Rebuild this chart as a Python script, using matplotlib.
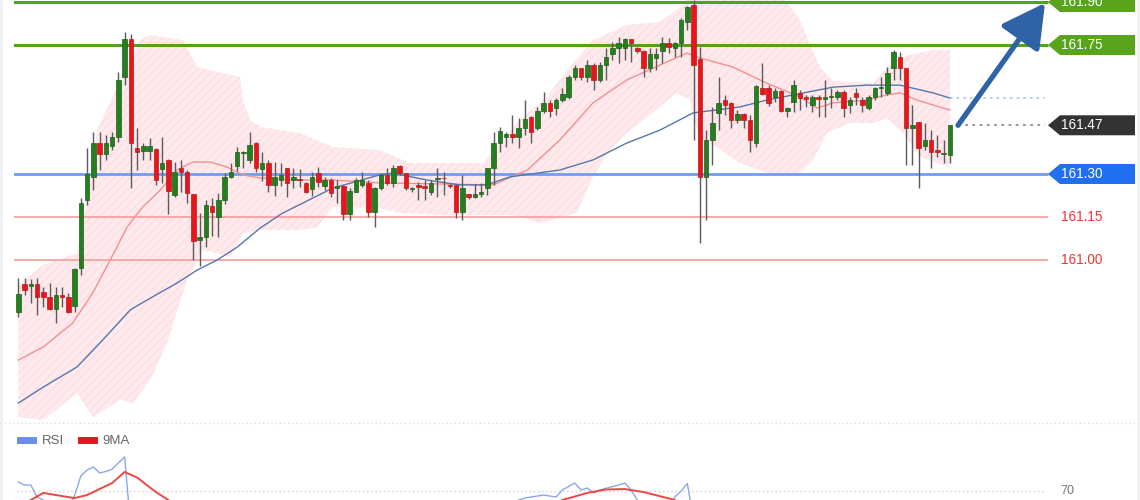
import numpy as np
import matplotlib.pyplot as plt
from matplotlib.patches import Polygon, Rectangle
from matplotlib.lines import Line2D

plt.rcParams["font.family"] = ["Liberation Sans", "DejaVu Sans"]
plt.rcParams["hatch.linewidth"] = 0.6

# USD/JPY-style 161.xx hourly candles
opens = [160.820, 160.915, 160.909, 160.915, 160.887, 160.870, 160.828, 160.878, 160.870, 160.840,
         160.971, 161.209, 161.291, 161.409, 161.369, 161.398, 161.430, 161.639, 161.770, 161.390,
         161.380, 161.380, 161.386, 161.316, 161.349, 161.227, 161.320, 161.308, 161.230, 161.070,
         161.080, 161.188, 161.150, 161.209, 161.291, 161.328, 161.372, 161.349, 161.409, 161.316,
         161.339, 161.262, 161.279, 161.320, 161.279, 161.280, 161.270, 161.248, 161.303, 161.258,
         161.279, 161.250, 161.258, 161.159, 161.238, 161.262, 161.268, 161.169, 161.250, 161.297,
         161.268, 161.328, 161.302, 161.247, 161.262, 161.258, 161.238, 161.284, 161.286, 161.260,
         161.262, 161.169, 161.230, 161.221, 161.229, 161.250, 161.320, 161.409, 161.430, 161.440,
         161.428, 161.459, 161.500, 161.459, 161.520, 161.549, 161.529, 161.558, 161.570, 161.639,
         161.669, 161.639, 161.680, 161.628, 161.680, 161.719, 161.738, 161.738, 161.770, 161.738,
         161.730, 161.669, 161.704, 161.730, 161.758, 161.738, 161.756, 161.831, 161.889, 161.700,
         161.291, 161.419, 161.512, 161.558, 161.549, 161.488, 161.508, 161.488, 161.407, 161.599,
         161.601, 161.570, 161.591, 161.520, 161.552, 161.581, 161.570, 161.541, 161.570, 161.561,
         161.570, 161.570, 161.587, 161.541, 161.581, 161.558, 161.529, 161.570, 161.599, 161.581,
         161.669, 161.709, 161.669, 161.459, 161.482, 161.398, 161.419, 161.384, 161.371, 161.366]
highs = [160.936, 160.936, 160.933, 160.936, 160.907, 160.919, 160.907, 160.907, 160.884, 160.971,
         161.215, 161.390, 161.448, 161.448, 161.436, 161.448, 161.657, 161.796, 161.788, 161.459,
         161.407, 161.425, 161.390, 161.430, 161.352, 161.343, 161.349, 161.314, 161.232, 161.164,
         161.209, 161.215, 161.233, 161.302, 161.337, 161.395, 161.380, 161.448, 161.413, 161.378,
         161.349, 161.343, 161.338, 161.322, 161.321, 161.317, 161.273, 161.308, 161.324, 161.291,
         161.286, 161.279, 161.262, 161.251, 161.286, 161.308, 161.279, 161.256, 161.302, 161.320,
         161.331, 161.331, 161.305, 161.256, 161.273, 161.279, 161.279, 161.320, 161.308, 161.265,
         161.262, 161.297, 161.232, 161.265, 161.269, 161.322, 161.448, 161.465, 161.448, 161.506,
         161.494, 161.558, 161.502, 161.535, 161.587, 161.558, 161.564, 161.599, 161.645, 161.680,
         161.670, 161.698, 161.686, 161.692, 161.738, 161.761, 161.779, 161.773, 161.772, 161.744,
         161.731, 161.738, 161.738, 161.779, 161.773, 161.761, 161.843, 161.886, 161.907, 161.744,
         161.453, 161.535, 161.637, 161.576, 161.552, 161.523, 161.512, 161.506, 161.610, 161.688,
         161.610, 161.599, 161.593, 161.535, 161.628, 161.593, 161.576, 161.576, 161.576, 161.628,
         161.599, 161.593, 161.593, 161.570, 161.599, 161.570, 161.576, 161.604, 161.639, 161.674,
         161.733, 161.727, 161.670, 161.541, 161.483, 161.477, 161.453, 161.436, 161.419, 161.470]
lows = [160.803, 160.878, 160.849, 160.808, 160.837, 160.826, 160.779, 160.837, 160.816, 160.820,
        160.947, 161.192, 161.244, 161.314, 161.349, 161.384, 161.413, 161.610, 161.250, 161.314,
        161.349, 161.349, 161.262, 161.268, 161.160, 161.220, 161.238, 161.198, 161.000, 160.979,
        161.046, 161.084, 161.081, 161.195, 161.285, 161.310, 161.321, 161.337, 161.308, 161.276,
        161.238, 161.223, 161.258, 161.221, 161.251, 161.255, 161.234, 161.223, 161.256, 161.244,
        161.221, 161.198, 161.140, 161.140, 161.237, 161.256, 161.149, 161.116, 161.244, 161.262,
        161.256, 161.297, 161.244, 161.238, 161.209, 161.209, 161.227, 161.221, 161.227, 161.252,
        161.145, 161.140, 161.213, 161.216, 161.221, 161.227, 161.262, 161.378, 161.395, 161.407,
        161.390, 161.436, 161.409, 161.453, 161.512, 161.500, 161.506, 161.552, 161.562, 161.628,
        161.628, 161.622, 161.593, 161.622, 161.628, 161.698, 161.686, 161.698, 161.692, 161.721,
        161.639, 161.657, 161.663, 161.688, 161.721, 161.709, 161.709, 161.802, 161.419, 161.058,
        161.140, 161.331, 161.453, 161.506, 161.459, 161.477, 161.459, 161.378, 161.395, 161.576,
        161.537, 161.552, 161.517, 161.500, 161.517, 161.523, 161.535, 161.517, 161.500, 161.500,
        161.529, 161.558, 161.500, 161.512, 161.541, 161.517, 161.523, 161.558, 161.570, 161.576,
        161.628, 161.628, 161.331, 161.331, 161.250, 161.384, 161.320, 161.360, 161.337, 161.337]
closes = [160.883, 160.897, 160.916, 160.870, 160.870, 160.828, 160.878, 160.870, 160.820, 160.968,
          161.200, 161.300, 161.409, 161.369, 161.409, 161.430, 161.628, 161.770, 161.407, 161.378,
          161.398, 161.398, 161.279, 161.339, 161.241, 161.308, 161.308, 161.235, 161.067, 161.080,
          161.191, 161.169, 161.209, 161.291, 161.308, 161.378, 161.376, 161.401, 161.320, 161.339,
          161.262, 161.288, 161.297, 161.268, 161.288, 161.279, 161.238, 161.291, 161.272, 161.279,
          161.235, 161.258, 161.159, 161.241, 161.279, 161.279, 161.169, 161.250, 161.297, 161.268,
          161.320, 161.302, 161.250, 161.250, 161.256, 161.250, 161.268, 161.286, 161.285, 161.259,
          161.169, 161.250, 161.219, 161.229, 161.238, 161.320, 161.409, 161.450, 161.440, 161.430,
          161.459, 161.491, 161.448, 161.520, 161.549, 161.520, 161.558, 161.578, 161.639, 161.669,
          161.639, 161.680, 161.628, 161.680, 161.709, 161.738, 161.756, 161.770, 161.756, 161.730,
          161.669, 161.719, 161.719, 161.758, 161.744, 161.756, 161.837, 161.881, 161.680, 161.291,
          161.419, 161.477, 161.549, 161.541, 161.488, 161.508, 161.488, 161.419, 161.607, 161.579,
          161.549, 161.591, 161.520, 161.529, 161.610, 161.564, 161.561, 161.570, 161.561, 161.568,
          161.571, 161.587, 161.529, 161.558, 161.570, 161.541, 161.570, 161.599, 161.604, 161.651,
          161.727, 161.669, 161.459, 161.471, 161.390, 161.419, 161.378, 161.378, 161.373, 161.470]

# Bollinger band edges (candle index, price)
bb_up_idx = [0, 4.0, 9.4, 11.0, 12.6, 15.8, 19.5, 21.1, 26.3, 28.6, 31.8, 35.5, 35.9, 37.1, 38.7,
             45.0, 50.3, 57.8, 62.6, 74.3, 76.2, 80.2, 84.5, 88.7, 91.9, 97.3, 102.6, 105.8, 107.9,
             112.2, 120.2, 125.0, 126.6, 128.2, 130.3, 136.7, 138.9, 141.0, 146.3, 149.0]
bb_up = [160.913, 160.983, 161.024, 161.209, 161.453, 161.603, 161.767, 161.785, 161.767, 161.673,
         161.656, 161.638, 161.558, 161.488, 161.464, 161.443, 161.394, 161.384, 161.338, 161.338,
         161.384, 161.488, 161.569, 161.687, 161.767, 161.820, 161.830, 161.882, 161.942, 162.012,
         161.977, 161.837, 161.750, 161.673, 161.624, 161.617, 161.673, 161.708, 161.733, 161.733]
bb_lo_idx = [0, 4.0, 9.4, 11.9, 16.3, 18.3, 21.1, 23.8, 25.4, 27.0, 28.6, 29.5, 31.8, 33.9, 35.9,
             38.7, 45.0, 47.8, 50.3, 57.8, 61.0, 69.0, 79.1, 83.4, 89.3, 91.9, 94.6, 97.3, 101.0,
             105.3, 107.4, 109.0, 111.7, 115.4, 119.7, 125.0, 127.1, 129.3, 133.0, 136.7, 138.9,
             141.5, 144.2, 149.0]
bb_lo = [160.452, 160.442, 160.536, 160.452, 160.512, 160.501, 160.581, 160.711, 160.826, 160.930,
         161.000, 161.035, 161.024, 161.010, 161.094, 161.105, 161.105, 161.115, 161.185, 161.181,
         161.164, 161.157, 161.157, 161.129, 161.164, 161.290, 161.384, 161.443, 161.506, 161.583,
         161.558, 161.419, 161.394, 161.338, 161.303, 161.303, 161.349, 161.443, 161.478, 161.478,
         161.495, 161.443, 161.359, 161.324]

# moving averages (candle index, price)
ma_red_idx = [0, 4.0, 8.7, 11.9, 14.7, 17.4, 19.9, 22.7, 25.4, 27.9, 30.7, 33.4, 35.9, 38.7, 45.0,
              50.3, 57.8, 75.9, 81.4, 86.6, 91.9, 97.3, 102.6, 106.9, 109.0, 114.3, 119.7, 125.0,
              127.7, 130.3, 135.7, 138.9, 141.0, 143.7, 149.0]
ma_red = [160.651, 160.697, 160.780, 160.885, 161.000, 161.115, 161.185, 161.244, 161.314, 161.342,
          161.342, 161.324, 161.297, 161.286, 161.279, 161.279, 161.269, 161.262, 161.314, 161.419,
          161.548, 161.628, 161.680, 161.722, 161.705, 161.673, 161.617, 161.569, 161.530, 161.548,
          161.558, 161.576, 161.583, 161.558, 161.523]
ma_blue_idx = [0, 4.0, 9.4, 13.5, 17.9, 21.1, 25.4, 28.6, 31.8, 35.0, 38.7, 42.3, 50.3, 57.8, 59.9,
               65.4, 70.6, 74.9, 78.6, 86.6, 91.9, 97.3, 102.6, 107.9, 115.4, 119.7, 130.3, 135.7,
               141.0, 146.3, 149.0]
ma_blue = [160.501, 160.557, 160.627, 160.721, 160.826, 160.867, 160.920, 160.965, 161.000, 161.045,
           161.112, 161.164, 161.251, 161.297, 161.303, 161.279, 161.262, 161.262, 161.290, 161.314,
           161.349, 161.408, 161.453, 161.513, 161.534, 161.558, 161.603, 161.610, 161.610, 161.583,
           161.565]

# key levels and their right-hand tags
resistances = [161.90, 161.75]
pivot = 161.30
supports = [161.15, 161.00]
target = 161.90

# RSI panel (only the part above ~64 is visible); nan splits the segments
rsi_idx = [0, 1, 2, 3, 4, 5, np.nan,
           8, 9, 10, 11, 12, 13, 14, 15, 16, 17, 18, np.nan,
           79, 80, 81, 84, 86, 87, 89, 90, 91, 92, 93, 96, 97, 98, 99, 100, np.nan,
           104, 105, 106, 107, 108]
rsi_val = [76, 74, 74, 66, 64, 56, np.nan,
           58, 67, 80, 84, 86, 82, 83, 84.5, 88.7, 92.7, 45, np.nan,
           60, 64, 65.3, 67.3, 66, 70.7, 75.3, 70.7, 72, 68.7, 70.7, 74, 75.3, 70.7, 64, 58, np.nan,
           60, 66, 70, 75, 50]
ma9_idx = [0, 2, 4, 6, 9, 11, 15, 17, 19, 22, 24, 26, np.nan,
           85, 87, 91, 94, 97, 100, 105, 107]
ma9_val = [58, 64, 68.7, 67.3, 65.3, 67.3, 75.3, 82.7, 79, 69.3, 64, 58, np.nan,
           58, 64, 68.7, 71, 71.3, 69.3, 64, 58]
rsi_level = 70

# ---- layout (pixels of the 1140x500 picture)
W, H = 1140, 500
LEFT = 14
FIRST, STEP = 18.3, 6.253          # first candle centre, candle spacing
YLIM = (160.442, 161.907)
PPX = (YLIM[1] - YLIM[0]) / 420     # price per pixel in the main panel


def px2x(px):
    return (px - FIRST) / STEP


fig = plt.figure(figsize=(W / 100, H / 100), dpi=100)
ax = fig.add_axes([LEFT / W, 80 / H, (W - LEFT) / W, 420 / H])
ax.set_xlim(px2x(LEFT), px2x(W))
ax.set_ylim(*YLIM)
ax.axis("off")

o, h, l, c = map(np.array, (opens, highs, lows, closes))
idx = np.arange(len(c))
x_end = px2x(1048)
x_left = px2x(13)

# bollinger band
poly_x = np.concatenate([bb_up_idx, bb_lo_idx[::-1]])
poly_y = np.concatenate([bb_up, bb_lo[::-1]])
ax.fill(poly_x, poly_y, facecolor="#feeaec", edgecolor="#fad8dc", hatch="////",
        linewidth=0, zorder=1)

ax.plot(ma_red_idx, ma_red, color="#f29090", lw=1.0, zorder=3)
ax.plot(ma_blue_idx, ma_blue, color="#5677ae", lw=1.0, zorder=3)
ax.hlines(ma_blue[-1], idx[-1], px2x(1045), color="#a9c1ea", lw=1.2,
          linestyles=(0, (1.5, 2.5)), zorder=3)

# level lines
ax.hlines(resistances, x_left, x_end, color="#52a318", lw=2.2, zorder=2)
ax.hlines(pivot, x_left, x_end, color="#6e9ef2", lw=2.0, zorder=2)
ax.hlines(supports, x_left, x_end, color="#f7a8a8", lw=1.4, zorder=2)

# candles
up = c >= o
ax.vlines(idx, l, h, color="#5b5b5b", lw=1.0, zorder=4)
body_lo = np.minimum(o, c)
body_h = np.maximum(np.abs(c - o), 0.0028)
ax.bar(idx, body_h, bottom=body_lo, width=0.72,
       color=np.where(up, "#24801f", "#e8161c"),
       edgecolor=np.where(up, "#1d5e1a", "#b81a1a"), lw=0.5, zorder=5)

# last price line and arrow to target
ax.hlines(c[-1], px2x(958), px2x(1045), color="#8c8c8c", lw=1.3,
          linestyles=(0, (1.5, 2.5)), zorder=3)
ax.annotate("", xy=(px2x(1045), target - 1 * PPX), xytext=(px2x(958), c[-1]),
            arrowprops=dict(arrowstyle="-|>,head_length=1.1,head_width=0.6",
                            color="#2f62a6", lw=3.8, mutation_scale=24,
                            shrinkA=0, shrinkB=0),
            zorder=7, annotation_clip=False)


def tag(level, face, text_color="white"):
    hh = 10 * PPX
    if face is not None:
        pts = [(px2x(1048), level), (px2x(1060), level + hh), (px2x(1135), level + hh),
               (px2x(1135), level - hh), (px2x(1060), level - hh)]
        ax.add_patch(Polygon(pts, closed=True, fc=face, ec="none", clip_on=False, zorder=6))
    ax.text(px2x(1061), level, f"{level:.2f}", color=text_color, fontsize=9.8,
            va="center", ha="left", zorder=7, clip_on=False)


for lv in resistances:
    tag(lv, "#58a51b")
tag(c[-1], "#333333")
tag(pivot, "#1f6ff0")
for lv in supports:
    tag(lv, None, "#f03434")

# ---- RSI panel
ax2 = fig.add_axes([LEFT / W, 0, (W - LEFT) / W, 45 / H])
ax2.set_xlim(px2x(LEFT), px2x(W))
ax2.set_ylim(64, 94)
ax2.axis("off")
ax2.hlines(rsi_level, px2x(0), px2x(1045), color="#cfcfcf", lw=1.0,
           linestyles=(0, (1, 2)))
ax2.plot(rsi_idx, rsi_val, color="#8aa8f0", lw=1.0)
ax2.plot(ma9_idx, ma9_val, color="#f04646", lw=1.4)
ax2.text(px2x(1060), rsi_level, str(rsi_level), color="#777777", fontsize=9,
         va="center", ha="left", clip_on=False)

fig.legend(handles=[Line2D([], [], color="#6a8ee6", lw=5),
                    Line2D([], [], color="#e8141e", lw=5)],
           labels=["RSI", "9MA"], loc="center left",
           bbox_to_anchor=(15 / W, 1 - 441 / H), ncol=2, frameon=False,
           fontsize=9.5, handlelength=1.0, handletextpad=0.6, columnspacing=1.3,
           labelcolor="#666666", borderpad=0.2, borderaxespad=0.2)

# panel separator and faint frame edges
fig.add_artist(Line2D([0, 1], [1 - 423 / H] * 2, transform=fig.transFigure,
                      color="#dcdcdc", lw=1, ls=(0, (1, 2))))
fig.add_artist(Rectangle((0, 0), 3 / W, 1, transform=fig.transFigure,
                         color="#edf2f6", lw=0))
fig.add_artist(Line2D([1138 / W] * 2, [0, 1], transform=fig.transFigure,
                      color="#e8e8e8", lw=1))

fig.savefig("out.png", dpi=100)
